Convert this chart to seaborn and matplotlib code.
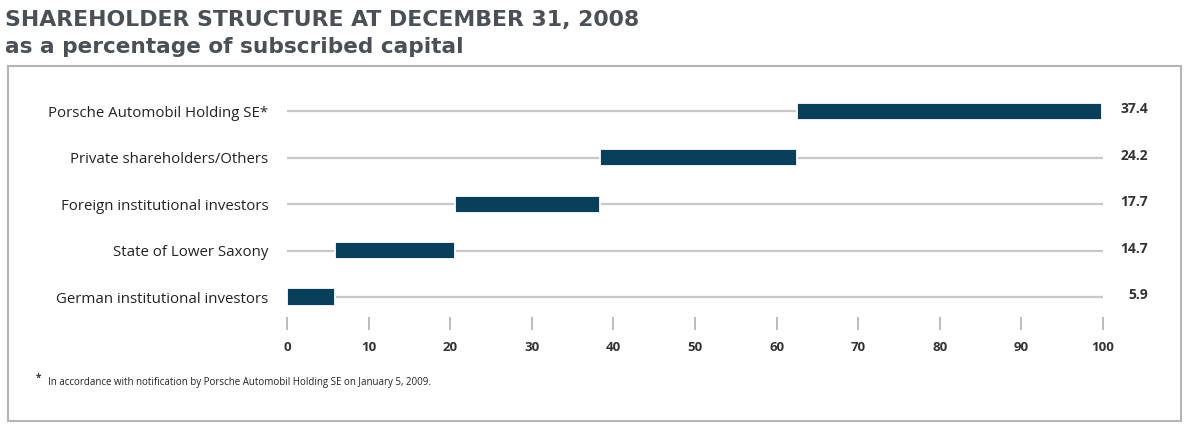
import matplotlib
matplotlib.use("Agg")
import matplotlib.pyplot as plt
from matplotlib.patches import Rectangle
import seaborn as sns
import numpy as np
import pandas as pd

# ---- data ----
categories = [
    "Porsche Automobil Holding SE*",
    "Private shareholders/Others",
    "Foreign institutional investors",
    "State of Lower Saxony",
    "German institutional investors",
]
values = [37.4, 24.2, 17.7, 14.7, 5.9]
xticks = [0, 10, 20, 30, 40, 50, 60, 70, 80, 90, 100]
title = "SHAREHOLDER STRUCTURE AT DECEMBER 31, 2008"
subtitle = "as a percentage of subscribed capital"
footnote = "In accordance with notification by Porsche Automobil Holding SE on January 5, 2009."

# floating bars: each starts where the one below it ends
starts = np.concatenate([[0.0], np.cumsum(values[::-1])[:-1]])[::-1]
df = pd.DataFrame({"category": categories, "value": values, "start": starts})

sns.set_theme(style="white")
plt.rcParams["font.family"] = ["Open Sans", "DejaVu Sans"]

W, H = 1202, 432
fig = plt.figure(figsize=(W / 100, H / 100), dpi=100)
fig.patch.set_facecolor("white")

ax = fig.add_axes([287 / W, 1 - 317 / H, (1103 - 287) / W, (317 - 88) / H])

sns.barplot(
    data=df, x="value", y="category", order=categories, orient="h",
    left=df["start"].values, color="#0a3f5c", saturation=1, width=0.37,
    edgecolor="white", linewidth=1.3, ax=ax, zorder=2,
)
ax.hlines(y=np.arange(len(categories)), xmin=xticks[0], xmax=xticks[-1],
          color="#c8c8c8", lw=1.6, zorder=1)

ax.set_xlim(xticks[0], xticks[-1])
ax.set_ylim(len(categories) - 1 + 0.43, -0.5)
ax.set_xlabel("")
ax.set_ylabel("")
sns.despine(ax=ax, left=True, bottom=True)

ax.set_xticks(xticks)
ax.set_xticklabels([str(t) for t in xticks], fontweight="bold", fontsize=9.5, color="#333333")
ax.tick_params(axis="x", bottom=True, length=9.5, width=1.4, color="#bdbdbd", pad=8, direction="out")
ax.tick_params(axis="y", left=False, length=0, pad=13.5)
for lab in ax.get_yticklabels():
    lab.set_fontsize(10.8)
    lab.set_fontweight("medium")
    lab.set_color("#222222")

for i, v in enumerate(values):
    ax.text(105.5, i - 0.04, f"{v:.1f}", ha="right", va="center", fontsize=10,
            fontweight="bold", color="#333333", clip_on=False)

# titles
fig.text(5 / W, 1 - 20 / H, title, fontsize=15.8, fontweight="bold",
         color="#4b5056", va="center", ha="left", family="DejaVu Sans")
fig.text(5 / W, 1 - 47 / H, subtitle, fontsize=15.6, fontweight="bold",
         color="#4b5056", va="center", ha="left", family="DejaVu Sans")

# footnote
fig.text(36 / W, 1 - 378 / H, "*", fontsize=7, fontweight="bold", color="#333333", va="center")
fig.text(48 / W, 1 - 382 / H, footnote, fontsize=7.0, fontweight="medium", color="#222222", va="center")

# frame
fig.add_artist(Rectangle((8 / W, 1 - 421 / H), (1181 - 8) / W, (421 - 66) / H,
                         transform=fig.transFigure, fill=False,
                         edgecolor="#b5b5b5", lw=1.5))

fig.savefig("out.png", dpi=100)
